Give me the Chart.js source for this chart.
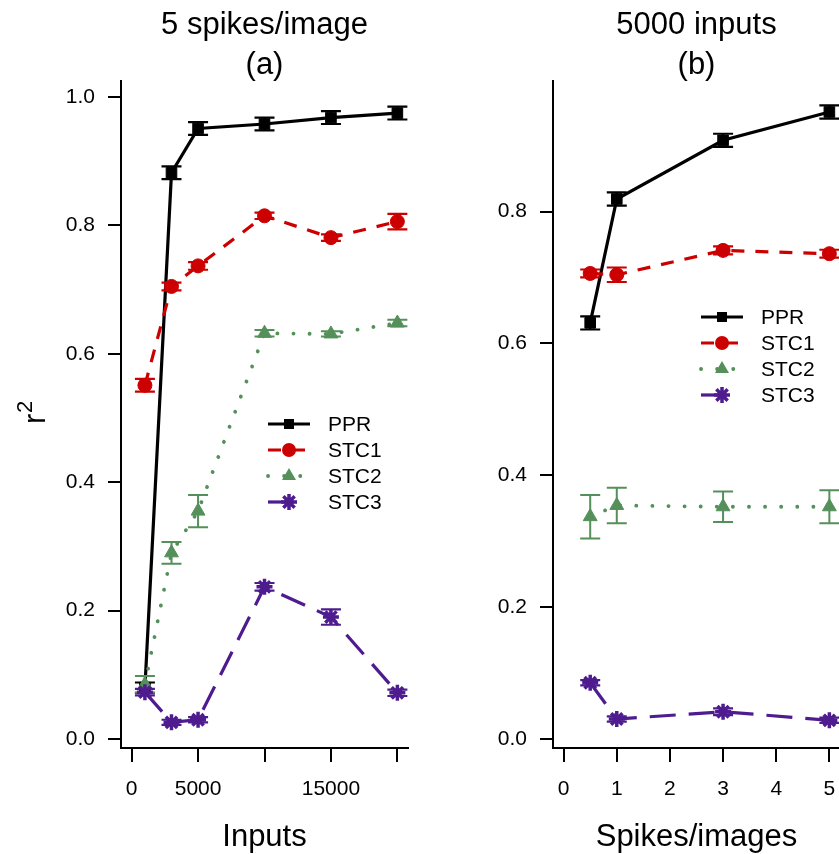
<!DOCTYPE html>
<html>
<head>
<meta charset="utf-8">
<script src="https://cdn.jsdelivr.net/npm/chart.js@4.4.1/dist/chart.umd.min.js"></script>
<style>
  html, body { margin: 0; padding: 0; background: #fff; }
  body { width: 839px; height: 854px; overflow: hidden; position: relative; }
  .panel { position: absolute; top: 0; height: 854px; width: 430px; }
</style>
</head>
<body>
<div class="panel" style="left:0"><canvas id="chartA"></canvas></div>
<div class="panel" style="left:430px"><canvas id="chartB"></canvas></div>
<script>
// ===== Data: panel (a), 5 spikes/image =====
const inputsA = [1000, 3000, 5000, 10000, 15000, 20000];
const pprA = [0.080, 0.882, 0.951, 0.958, 0.968, 0.975];
const pprErrA = [0.008, 0.010, 0.010, 0.010, 0.010, 0.010];
const stc1A = [0.551, 0.705, 0.737, 0.815, 0.781, 0.806];
const stc1ErrA = [0.010, 0.006, 0.006, 0.005, 0.005, 0.012];
const stc2A = [0.085, 0.290, 0.355, 0.632, 0.631, 0.648];
const stc2ErrA = [0.013, 0.017, 0.025, 0.005, 0.004, 0.005];
const stc3A = [0.073, 0.026, 0.030, 0.237, 0.190, 0.072];
const stc3ErrA = [0.005, 0.004, 0.004, 0.006, 0.012, 0.005];
const xTicksA = [0, 5000, 10000, 15000, 20000];
const xLabelsA = ["0", "5000", "", "15000", ""];

// ===== Data: panel (b), 5000 inputs =====
const spikesB = [0.5, 1, 3, 5];
const pprB = [0.631, 0.819, 0.908, 0.951];
const pprErrB = [0.010, 0.010, 0.010, 0.010];
const stc1B = [0.706, 0.704, 0.741, 0.736];
const stc1ErrB = [0.006, 0.011, 0.006, 0.006];
const stc2B = [0.337, 0.354, 0.352, 0.352];
const stc2ErrB = [0.033, 0.027, 0.023, 0.025];
const stc3B = [0.085, 0.030, 0.041, 0.028];
const stc3ErrB = [0.004, 0.004, 0.005, 0.004];
const xTicksB = [0, 1, 2, 3, 4, 5];

const yTicksA = [0, 0.2, 0.4, 0.6, 0.8, 1.0];
const yTicksB = [0, 0.2, 0.4, 0.6, 0.8];
const seriesNames = ["PPR", "STC1", "STC2", "STC3"];

const FONT = "'Liberation Sans', Arial, Helvetica, sans-serif";
const styles = [
  { color: "#000000", dash: [], width: 3.2, point: "rect", radius: 7.5, errWidth: 2.2 },
  { color: "#cc0000", dash: [13, 11], width: 3.2, point: "circle", radius: 7, errWidth: 2.2 },
  { color: "#55905a", dash: [0.1, 16], width: 3.8, point: "triangle", radius: 8, errWidth: 2 },
  { color: "#4f1c8f", dash: [26, 13], width: 3.2, point: "star", radius: 8, errWidth: 2.2 }
];

function makeDatasets(xs, ys, errs) {
  return ys.map((vals, i) => {
    const s = styles[i];
    return {
      label: seriesNames[i],
      data: vals.map((v, j) => ({ x: xs[j], y: v })),
      errors: errs[i],
      borderColor: s.color,
      backgroundColor: s.color,
      borderWidth: s.width,
      borderDash: s.dash,
      borderCapStyle: i === 2 ? "round" : "butt",
      pointStyle: s.point,
      pointRadius: s.radius,
      pointBorderWidth: i === 3 ? 3.5 : 1,
      pointBackgroundColor: s.color,
      pointBorderColor: s.color,
      errWidth: s.errWidth,
      tension: 0,
      order: 3 - i
    };
  });
}

// ===== Error bars =====
const errorBars = {
  id: "errorBars",
  afterDatasetDraw(chart, args) {
    const ds = chart.data.datasets[args.index];
    if (!ds.errors) return;
    const { ctx } = chart;
    const xs = chart.scales.x, ys = chart.scales.y;
    ctx.save();
    ctx.strokeStyle = ds.borderColor;
    ctx.lineWidth = ds.errWidth;
    ctx.setLineDash([]);
    ds.data.forEach((p, j) => {
      const e = ds.errors[j];
      const px = xs.getPixelForValue(p.x);
      const top = ys.getPixelForValue(p.y + e);
      const bot = ys.getPixelForValue(p.y - e);
      ctx.beginPath();
      ctx.moveTo(px, top); ctx.lineTo(px, bot);
      ctx.moveTo(px - 10, top); ctx.lineTo(px + 10, top);
      ctx.moveTo(px - 10, bot); ctx.lineTo(px + 10, bot);
      ctx.stroke();
    });
    ctx.restore();
  }
};

function drawMarker(ctx, kind, x, y, color) {
  ctx.save();
  ctx.fillStyle = color;
  ctx.strokeStyle = color;
  ctx.setLineDash([]);
  if (kind === "rect") {
    ctx.fillRect(x - 5, y - 5, 10, 10);
  } else if (kind === "circle") {
    ctx.beginPath(); ctx.arc(x, y, 7, 0, Math.PI * 2); ctx.fill();
  } else if (kind === "triangle") {
    ctx.beginPath();
    ctx.moveTo(x, y - 8); ctx.lineTo(x + 7, y + 4); ctx.lineTo(x - 7, y + 4);
    ctx.closePath(); ctx.fill();
  } else {
    ctx.lineWidth = 3.5;
    ctx.beginPath();
    for (let a = 0; a < 4; a++) {
      const ang = a * Math.PI / 4;
      ctx.moveTo(x - 8 * Math.cos(ang), y - 8 * Math.sin(ang));
      ctx.lineTo(x + 8 * Math.cos(ang), y + 8 * Math.sin(ang));
    }
    ctx.stroke();
  }
  ctx.restore();
}

// ===== Titles, axis titles, legend =====
const decorations = {
  id: "decorations",
  afterDraw(chart, args, opts) {
    const { ctx, chartArea } = chart;
    const cx = (chartArea.left + chartArea.right) / 2;
    ctx.save();
    ctx.fillStyle = "#000";
    ctx.textAlign = "center";
    ctx.textBaseline = "alphabetic";
    ctx.font = "31px " + FONT;
    ctx.fillText(opts.title[0], cx, 34);
    ctx.fillText(opts.title[1], cx, 74);
    ctx.font = "31px " + FONT;
    ctx.fillText(opts.xTitle, cx, 846);

    if (opts.yTitle) {
      ctx.save();
      ctx.translate(45, 424);
      ctx.rotate(-Math.PI / 2);
      ctx.textAlign = "left";
      ctx.font = "31px " + FONT;
      ctx.fillText("r", 0, 0);
      ctx.font = "22px " + FONT;
      ctx.fillText("2", 11, -13);
      ctx.restore();
    }

    // legend
    const lx = chartArea.left + opts.legendX;
    styles.forEach((s, i) => {
      const y = opts.legendY + i * 26;
      ctx.save();
      ctx.strokeStyle = s.color;
      ctx.lineWidth = s.width;
      ctx.setLineDash(s.dash);
      ctx.lineCap = i === 2 ? "round" : "butt";
      ctx.beginPath();
      ctx.moveTo(lx, y); ctx.lineTo(i === 3 ? lx + 26 : lx + 42, y);
      ctx.stroke();
      ctx.restore();
      drawMarker(ctx, s.point, lx + 21, y, s.color);
      ctx.textAlign = "left";
      ctx.textBaseline = "middle";
      ctx.font = "21px " + FONT;
      ctx.fillText(seriesNames[i], lx + 60, y + 1);
    });
    ctx.restore();
  }
};

function makeChart(id, cfg) {
  return new Chart(document.getElementById(id), {
    type: "line",
    data: { datasets: cfg.datasets },
    options: {
      responsive: false,
      animation: false,
      devicePixelRatio: 1,
      layout: { padding: { top: 81, right: cfg.padRight, left: 0, bottom: 0 } },
      plugins: {
        legend: { display: false },
        tooltip: { enabled: false },
        decorations: cfg.deco
      },
      scales: {
        x: {
          type: "linear",
          min: cfg.xMin, max: cfg.xMax,
          afterBuildTicks: sc => { sc.ticks = cfg.xTicks.map(v => ({ value: v })); },
          afterFit: sc => { sc.height = 106; },
          border: { display: true, color: "#000", width: 2 },
          grid: { drawOnChartArea: false, drawTicks: true, tickLength: 14, color: "#000", lineWidth: 2 },
          ticks: {
            color: "#000", font: { family: FONT, size: 21 }, padding: 15, maxRotation: 0, autoSkip: false,
            callback: cfg.xLabel
          }
        },
        y: {
          type: "linear",
          min: cfg.yMin, max: cfg.yMax,
          afterBuildTicks: sc => { sc.ticks = cfg.yTicks.map(v => ({ value: v })); },
          afterFit: sc => { sc.width = cfg.yWidth; },
          border: { display: true, color: "#000", width: 2 },
          grid: { drawOnChartArea: false, drawTicks: true, tickLength: 13, color: "#000", lineWidth: 2 },
          ticks: {
            color: "#000", font: { family: FONT, size: 21 }, padding: 13, autoSkip: false,
            callback: v => v.toFixed(1)
          }
        }
      }
    },
    plugins: [errorBars, decorations]
  });
}

function sizeCanvas(id) {
  const c = document.getElementById(id);
  c.width = 430; c.height = 854;
  c.style.width = "430px"; c.style.height = "854px";
}
sizeCanvas("chartA");
sizeCanvas("chartB");

makeChart("chartA", {
  datasets: makeDatasets(inputsA, [pprA, stc1A, stc2A, stc3A], [pprErrA, stc1ErrA, stc2ErrA, stc3ErrA]),
  xMin: -800, xMax: 20800, xTicks: xTicksA,
  xLabel: v => xLabelsA[xTicksA.indexOf(v)],
  yMin: -0.014, yMax: 1.025, yTicks: yTicksA,
  yWidth: 121, padRight: 22,
  deco: { title: ["5 spikes/image", "(a)"], xTitle: "Inputs", yTitle: true, legendX: 147, legendY: 424 }
});

makeChart("chartB", {
  datasets: makeDatasets(spikesB, [pprB, stc1B, stc2B, stc3B], [pprErrB, stc1ErrB, stc2ErrB, stc3ErrB]),
  xMin: -0.2, xMax: 5.2, xTicks: xTicksB,
  xLabel: v => String(v),
  yMin: -0.014, yMax: 0.998, yTicks: yTicksB,
  yWidth: 123, padRight: 20,
  deco: { title: ["5000 inputs", "(b)"], xTitle: "Spikes/images", yTitle: false, legendX: 148, legendY: 317 }
});
</script>
</body>
</html>
